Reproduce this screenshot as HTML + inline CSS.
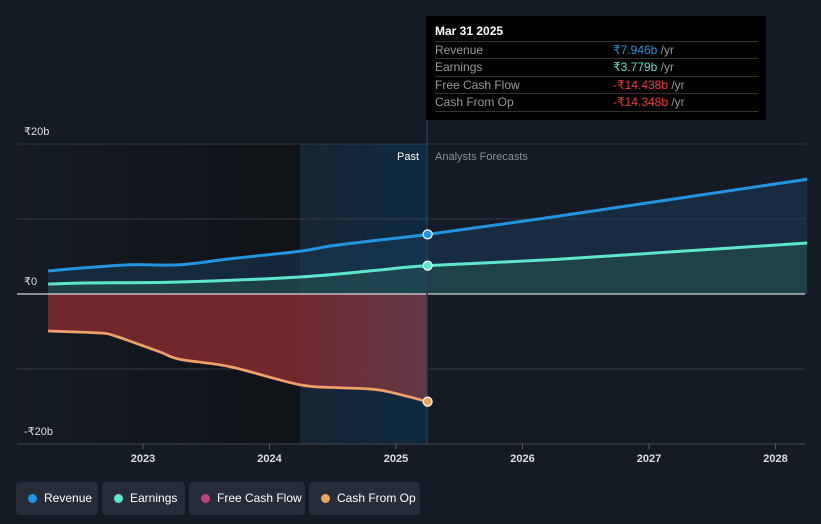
<!DOCTYPE html>
<html><head><meta charset="utf-8"><style>
body{margin:0;background:#151b24;font-family:"Liberation Sans",sans-serif;}
#wrap{position:relative;width:821px;height:524px;overflow:hidden}
.tt{position:absolute;left:426px;top:16px;width:340px;height:104px;background:#000;color:#fff;font-size:12px}
.tt .row{position:absolute;left:9px;width:323px;border-top:1px solid #333;height:17px;line-height:17px;color:#9a9a9a}
.tt .v{position:absolute;left:178px}
.leg{position:absolute;top:482px;height:33px;background:#262d38;border-radius:4px;color:#fff;font-size:12px;line-height:33px;padding:0 0 0 28px;box-sizing:border-box}
.leg i{position:absolute;left:12px;top:12px;width:9px;height:9px;border-radius:50%}
</style></head><body>
<div id="wrap">
<svg id="chart" width="821" height="524" style="position:absolute;left:0;top:0"></svg>
<div class="tt">
 <div style="position:absolute;left:9px;top:8px;font-size:12px;font-weight:bold">Mar 31 2025</div>
 <div class="row" style="top:25px">Revenue<span class="v" style="color:#2394df">₹7.946b <span style="color:#999">/yr</span></span></div>
 <div class="row" style="top:42px">Earnings<span class="v" style="color:#5de6cc">₹3.779b <span style="color:#999">/yr</span></span></div>
 <div class="row" style="top:60px">Free Cash Flow<span class="v" style="color:#f03c3c">-₹14.438b <span style="color:#999">/yr</span></span></div>
 <div class="row" style="top:77px;border-bottom:1px solid #333">Cash From Op<span class="v" style="color:#f03c3c">-₹14.348b <span style="color:#999">/yr</span></span></div>
</div>
<div class="leg" style="left:16px;width:82px"><i style="background:#2394df"></i>Revenue</div>
<div class="leg" style="left:102px;width:83px"><i style="background:#5de6cc"></i>Earnings</div>
<div class="leg" style="left:189px;width:116px"><i style="background:#c2417f"></i>Free Cash Flow</div>
<div class="leg" style="left:309px;width:111px"><i style="background:#e9a561"></i>Cash From Op</div>
</div>
<script>
const revYears=[2022.25,2022.54,2022.9,2023.29,2023.69,2024.24,2024.48,2024.87,2025.25,2026.25,2027.25,2028.25];
const revVals=[3.07,3.5,3.9,3.9,4.7,5.7,6.4,7.2,7.95,10.3,12.8,15.3];
const earnYears=[2022.25,2022.54,2023.29,2024.24,2024.87,2025.25,2026.25,2027.25,2028.25];
const earnVals=[1.33,1.47,1.6,2.27,3.2,3.78,4.6,5.7,6.8];
const cfoYears=[2022.25,2022.66,2022.78,2023.13,2023.29,2023.69,2024.24,2024.56,2024.87,2025.25];
const cfoVals=[-4.93,-5.2,-5.6,-7.7,-8.7,-9.7,-12.1,-12.5,-12.8,-14.35];
const yTicks=[20,10,0,-10,-20];
const xTicks=[2023,2024,2025,2026,2027,2028];
const NS="http://www.w3.org/2000/svg";
const svg=document.getElementById('chart');
const X=t=>143+(t-2023)*126.5;
const Y=v=>294-v*7.5;
function el(tag,attrs,parent){const e=document.createElementNS(NS,tag);for(const k in attrs)e.setAttribute(k,attrs[k]);(parent||svg).appendChild(e);return e;}
function path(xs,vs){const p=xs.map((t,i)=>[X(t),Y(vs[i])]);let d=`M${p[0][0]},${p[0][1]}`;
 for(let i=0;i<p.length-1;i++){const p0=p[i-1]||p[i],p1=p[i],p2=p[i+1],p3=p[i+2]||p2;
 d+=` C${p1[0]+(p2[0]-p0[0])/6},${p1[1]+(p2[1]-p0[1])/6} ${p2[0]-(p3[0]-p1[0])/6},${p2[1]-(p3[1]-p1[1])/6} ${p2[0]},${p2[1]}`;}return d;}
const defs=el('defs',{});
defs.innerHTML=`<linearGradient id="pastBg" x1="0" x2="1"><stop offset="0" stop-color="#151b24"/><stop offset="1" stop-color="#0f1217"/></linearGradient>
<linearGradient id="hl" x1="0" x2="1"><stop offset="0" stop-color="#172634"/><stop offset="1" stop-color="#0e2a40"/></linearGradient>
<linearGradient id="red" x1="0" x2="1"><stop offset="0" stop-color="#7a2a2e"/><stop offset="0.65" stop-color="#7a2a2e"/><stop offset="1" stop-color="#6a3a4a"/></linearGradient>`;
let r=el('rect',{x:17,y:144,width:283,height:300,fill:'url(#pastBg)'});
r=el('rect',{x:300,y:144,width:127,height:300,fill:'url(#hl)'});
yTicks.forEach(v=>{const l=el('line',{x1:17,x2:805,y1:Y(v),y2:Y(v),stroke:v===0?'#fff':'#333a44','stroke-width':1});});
[[20,'₹20b'],[0,'₹0'],[-20,'-₹20b']].forEach(([v,s])=>{const t=el('text',{x:24,y:Y(v)-9,fill:'#ddd','font-size':11});t.textContent=s;});
let a=el('path',{d:path(revYears,revVals)+` L${X(2028.25)},${Y(0)} L${X(2022.25)},${Y(0)} Z`,fill:'#1a3a58','fill-opacity':0.55});
a=el('path',{d:path(earnYears,earnVals)+` L${X(2028.25)},${Y(0)} L${X(2022.25)},${Y(0)} Z`,fill:'#2a5a55','fill-opacity':0.45});
a=el('path',{d:path(cfoYears,cfoVals)+` L${X(2025.25)},${Y(0)} L${X(2022.25)},${Y(0)} Z`,fill:'url(#red)','fill-opacity':0.9});
el('line',{x1:17,x2:805,y1:Y(0),y2:Y(0),stroke:'#fff','stroke-width':1});
let l=el('path',{d:path(revYears,revVals),fill:'none',stroke:'#2394df','stroke-width':3});
l=el('path',{d:path(earnYears,earnVals),fill:'none',stroke:'#5de6cc','stroke-width':3});
l=el('path',{d:path(cfoYears,cfoVals),fill:'none',stroke:'#c2417f','stroke-width':3});
l=el('path',{d:path(cfoYears,cfoVals),fill:'none',stroke:'#e9a561','stroke-width':2.5});
el('line',{x1:427,x2:427,y1:16,y2:444,stroke:'#2a3a4a','stroke-width':1.5});
[[revVals[8],'#2394df','revenue-point'],[earnVals[5],'#5de6cc','earnings-point'],[cfoVals[9],'#e9a561','cfo-point']].forEach(([v,c,n])=>{const p=el('circle',{cx:X(2025.25),cy:Y(v),r:4.5,fill:c,stroke:'#fff','stroke-width':1.2});});
let t=el('text',{x:419,y:160,fill:'#fff','font-size':11,'text-anchor':'end'});t.textContent='Past';
t=el('text',{x:435,y:160,fill:'#8a9098','font-size':11});t.textContent='Analysts Forecasts';
el('line',{x1:17,x2:805,y1:444,y2:444,stroke:'#444b55','stroke-width':1});
xTicks.forEach(y=>{el('line',{x1:X(y),x2:X(y),y1:444,y2:449,stroke:'#555','stroke-width':1});const s=el('text',{x:X(y),y:462,fill:'#ddd','font-size':11,'font-weight':'bold','text-anchor':'middle'});s.textContent=y;});
</script>
</body></html>
